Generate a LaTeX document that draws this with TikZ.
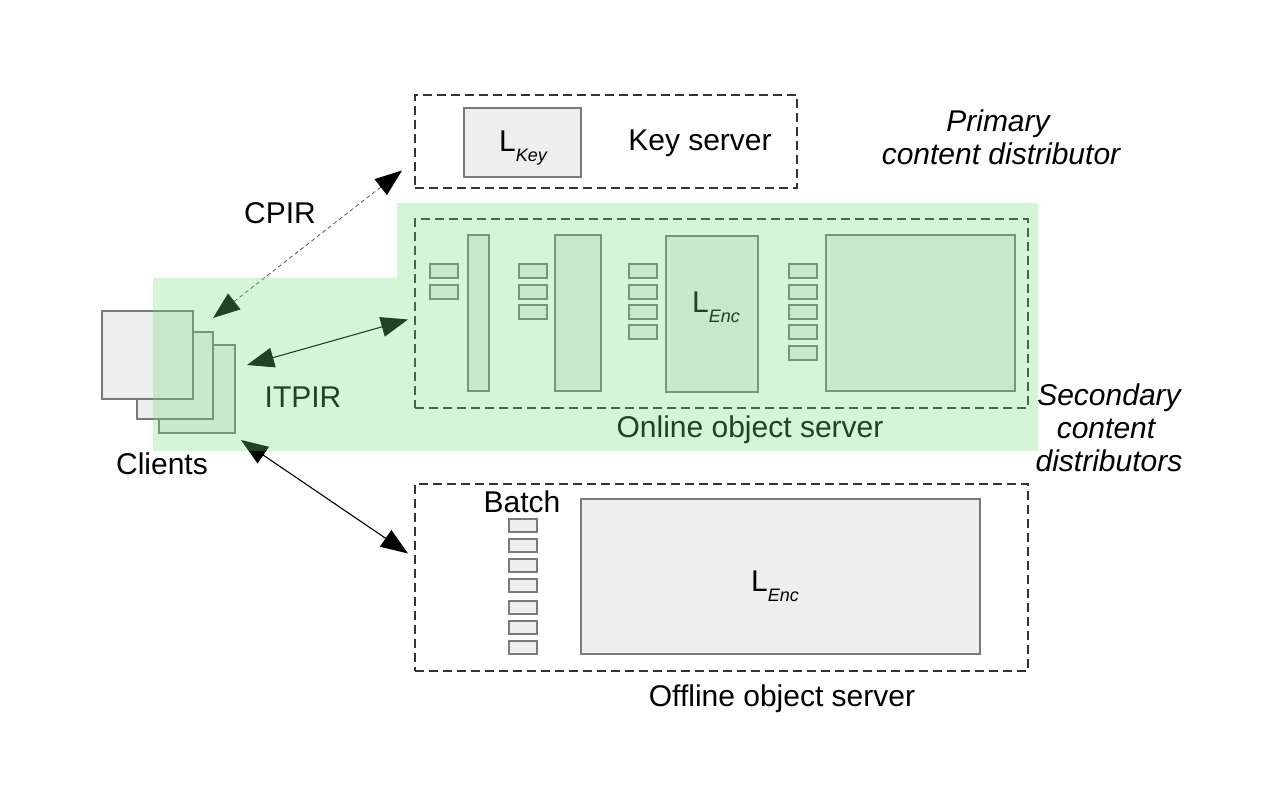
\documentclass[tikz,border=0pt]{standalone}
\usepackage{fontspec}
\setmainfont{Liberation Sans}
\usetikzlibrary{arrows.meta,calc}
\definecolor{boxfill}{HTML}{EEEEEE}
\definecolor{boxline}{HTML}{7A7A7A}
\definecolor{overlaygreen}{RGB}{112,222,118}
\definecolor{cpirgray}{HTML}{555555}
\newcommand\bx[5]{\node[box, minimum width=#4pt, minimum height=#5pt] (#1) at (#2,#3) {};}
\newcommand\Lsub[1]{L\raisebox{-10pt}{\fontsize{18}{22}\selectfont\itshape #1}}
\begin{document}
\begin{tikzpicture}[x=1pt,y=-1pt,
  box/.style={draw=boxline, fill=boxfill, line width=1.1pt, inner sep=0pt, outer sep=0pt, anchor=north west},
  server/.style={draw=black!80, line width=1.1pt, dash pattern=on 9pt off 5pt, inner sep=0pt, outer sep=0pt, anchor=north west},
  lbl/.style={font=\fontsize{30}{36}\selectfont, anchor=base, inner sep=0pt},
  ilbl/.style={font=\fontsize{30}{36}\selectfont\itshape, anchor=base, inner sep=0pt},
  arr/.style={line width=1.1pt, {Triangle[length=27pt,width=20pt,color=black]}-{Triangle[length=27pt,width=20pt,color=black]}},
]
\useasboundingbox (0,0) rectangle (1280,800);

% servers
\node[server, minimum width=382pt, minimum height=93pt] (keysrv) at (415,95) {};
\node[server, minimum width=613pt, minimum height=189pt] (online) at (415,219) {};
\node[server, minimum width=613pt, minimum height=187pt] (offline) at (415,484) {};

% key server
\bx{lkey}{464}{108}{117}{69}
\node[lbl, anchor=base west] (lkeytxt) at (499,151) {\Lsub{Key}};
\node[lbl] (keytxt) at (700,150) {Key server};
\node[ilbl] (primary) at (998,131) {Primary};
\node[ilbl] (primary2) at (1001,164) {content distributor};

% online object server contents
\bx{a1}{430}{264}{28}{14}
\bx{a2}{430}{285}{28}{14}
\bx{bar1}{468}{235}{21}{156}
\bx{b1}{519}{264}{28}{14}
\bx{b2}{519}{285}{28}{14}
\bx{b3}{519}{305}{28}{14}
\bx{bar2}{555}{235}{46}{156}
\bx{c1}{629}{264}{28}{14}
\bx{c2}{629}{285}{28}{14}
\bx{c3}{629}{305}{28}{14}
\bx{c4}{629}{325}{28}{14}
\bx{lenc}{666}{236}{92}{156}
\node[lbl, anchor=base west] (lenctxt) at (692,312) {\Lsub{Enc}};
\bx{d1}{789}{264}{28}{14}
\bx{d2}{789}{285}{28}{14}
\bx{d3}{789}{305}{28}{14}
\bx{d4}{789}{325}{28}{14}
\bx{d5}{789}{346}{28}{14}
\bx{bigbox}{826}{235}{189}{156}
\node[lbl] (onlinetxt) at (750,437) {Online object server};

% offline object server contents
\node[lbl] (batch) at (522,512) {Batch};
\bx{e1}{509}{519}{28}{13}
\bx{e2}{509}{539}{28}{13}
\bx{e3}{509}{559}{28}{13}
\bx{e4}{509}{579}{28}{13}
\bx{e5}{509}{601}{28}{13}
\bx{e6}{509}{621}{28}{13}
\bx{e7}{509}{641}{28}{13}
\bx{offbig}{581}{499}{399}{155}
\node[lbl, anchor=base west] (offenctxt) at (751,591) {\Lsub{Enc}};
\node[lbl] (offlinetxt) at (782,706) {Offline object server};

% secondary label
\node[ilbl] (sec1) at (1109,405) {Secondary};
\node[ilbl] (sec2) at (1106,438) {content};
\node[ilbl] (sec3) at (1109,471) {distributors};

% clients
\bx{cl3}{159}{345}{76}{88}
\bx{cl2}{137}{332}{76}{87}
\bx{cl1}{102}{311}{91}{88}
\node[lbl] (clients) at (162,474) {Clients};

% arrows
\coordinate (cpirA) at ($(cl2.north east)+(0,-14)$);
\coordinate (cpirB) at ($(keysrv.west)+(-13,29)$);
\coordinate (itA) at ($(cl3.east)+(12,-24)$);
\coordinate (itB) at ($(online.west)+(-7,6)$);
\coordinate (offA) at ($(cl3.south east)+(6,7)$);
\coordinate (offB) at ($(offline.west)+(-7,-24)$);
\draw[arr, draw=cpirgray, line width=0.8pt, dash pattern=on 4pt off 3pt] (cpirA) -- (cpirB);
\draw[arr] (itA) -- (itB);
\draw[arr] (offA) -- (offB);
\node[lbl] (cpir) at (280,223) {CPIR};
\node[lbl] (itpir) at (303,407) {ITPIR};

% translucent green region
\fill[overlaygreen, fill opacity=0.3] (153,278) -- (397,278) -- (397,203) -- (1038,203) -- (1038,451) -- (153,451) -- cycle;
\end{tikzpicture}
\end{document}
